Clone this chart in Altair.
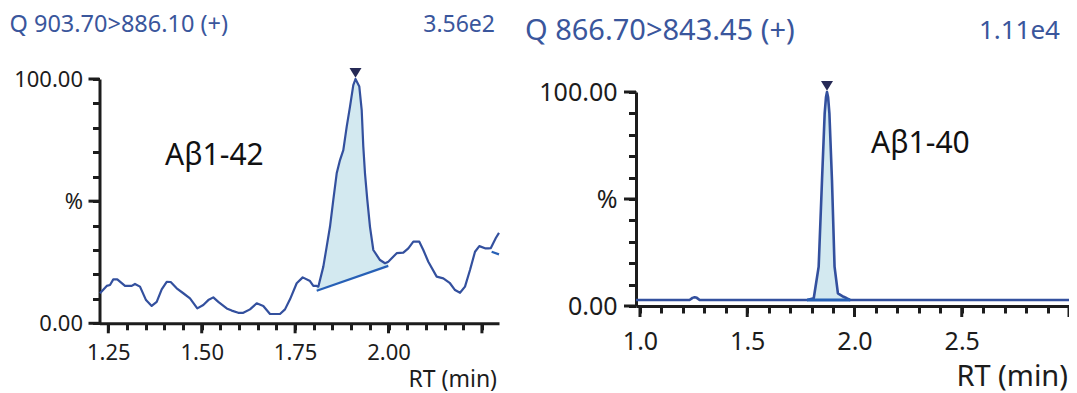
import altair as alt
import pandas as pd
import numpy as np

# ---------------- data ----------------
# Left panel: Q 903.70>886.10 (+), Abeta1-42
left_rt = [1.2277, 1.2457, 1.2545, 1.2633, 1.2740, 1.2947, 1.3126, 1.3214, 1.3348, 1.3509,
           1.3661, 1.3795, 1.3929, 1.4063, 1.4170, 1.4330, 1.4507, 1.4686, 1.4882, 1.5042,
           1.5176, 1.5310, 1.5444, 1.5669, 1.5803, 1.5979, 1.6113, 1.6292, 1.6472, 1.6648,
           1.6828, 1.7095, 1.7229, 1.7363, 1.7542, 1.7703, 1.7898, 1.7987, 1.8078, 1.8121,
           1.8255, 1.8345, 1.8433, 1.8522, 1.8613, 1.8701, 1.8790, 1.8881, 1.8969, 1.9057,
           1.9116, 1.9218, 1.9282, 1.9325, 1.9370, 1.9432, 1.9504, 1.9593, 1.9772, 1.9906,
           1.9994, 2.0040, 2.0219, 2.0396, 2.0530, 2.0664, 2.0824, 2.0931, 2.1065, 2.1289,
           2.1466, 2.1645, 2.1780, 2.1913, 2.2047, 2.2181, 2.2315, 2.2430, 2.2583, 2.2671,
           2.2739, 2.2792, 2.2872, 2.2957]
left_pct = [12.3, 15.3, 15.7, 18.0, 18.0, 15.3, 15.3, 16.1, 15.0, 9.5,
            7.1, 8.8, 13.9, 17.0, 16.9, 14.3, 12.3, 10.2, 6.1, 7.5,
            9.5, 10.6, 8.8, 6.1, 5.2, 4.3, 4.3, 5.7, 8.2, 7.1,
            3.8, 3.8, 5.7, 9.8, 16.4, 18.8, 17.3, 15.3, 15.3, 15.0,
            23.2, 31.4, 39.5, 50.5, 61.4, 66.8, 70.9, 80.5, 88.7, 97.5,
            100.0, 96.9, 87.3, 72.3, 61.4, 50.5, 39.5, 30.0, 25.9, 24.6,
            25.2, 25.9, 28.7, 28.9, 30.7, 33.4, 33.4, 30.0, 25.2, 19.1,
            18.4, 16.4, 13.6, 12.5, 15.0, 21.8, 29.3, 31.6, 30.7, 30.7,
            30.8, 32.5, 34.9, 37.0]
left_peak_rt = [1.9116]
left_peak_pct = [100.0]
left_base_rt = [1.8078, 1.9994]
left_base_pct = [13.3, 23.5]
left_base2_rt = [2.2760, 2.2957]
left_base2_pct = [29.3, 28.2]

# Right panel: Q 866.70>843.45 (+), Abeta1-40
right_rt = [0.9814, 1.2310, 1.2450, 1.2546, 1.2650, 1.2780, 1.7790, 1.8100, 1.8330, 1.8486,
            1.8610, 1.8670, 1.8718, 1.8770, 1.8830, 1.8950, 1.9070, 1.9227, 1.9490, 1.9644,
            1.9800, 3.0000]
right_pct = [2.8, 2.8, 3.8, 4.1, 3.8, 2.8, 2.8, 3.6, 18.4, 58.9,
             90.0, 97.5, 100.0, 97.5, 90.0, 58.9, 18.4, 5.9, 4.3, 3.6,
             2.8, 2.8]
right_peak_rt = [1.8718]
right_peak_pct = [100.0]
right_base_rt = [1.7790, 1.9800]
right_base_pct = [2.8, 2.8]

# tick values / labels
left_x_major = [1.25, 1.50, 1.75, 2.00, 2.25]
left_x_minor = [1.30, 1.35, 1.40, 1.45, 1.55, 1.60, 1.65, 1.70, 1.80, 1.85, 1.90, 1.95,
                2.05, 2.10, 2.15, 2.20]
right_x_major = [1.0, 1.5, 2.0, 2.5, 3.0]
right_x_minor = [1.1, 1.2, 1.3, 1.4, 1.6, 1.7, 1.8, 1.9, 2.1, 2.2, 2.3, 2.4, 2.6, 2.7, 2.8, 2.9]
y_major = [0, 50, 100]
y_minor = [10, 20, 30, 40, 60, 70, 80, 90]

left_title = "Q 903.70>886.10 (+)"
left_intensity = "3.56e2"
left_name = "Aβ1-42"
right_title = "Q 866.70>843.45 (+)"
right_intensity = "1.11e4"
right_name = "Aβ1-40"
x_title = "RT (min)"

# ---------------- styles ----------------
FONT = "Noto Sans"
TRACE = "#33509e"
FILL = "#d3e9f0"
BASE = "#2760b6"
MARK = "#262a56"
BLUE_TXT = "#3a569c"
AX = "#1c1c1c"
W, H = 1061, 385
DW = 3.0  # axis line / tick width

TRI = "M-1,-1.85 L1,-1.85 L0,-0.2 Z"
Y_LABELS = ("datum.value == 50 ? '%' : "
            "(datum.value == 0 || datum.value == 100 ? format(datum.value, '.2f') : '')")


def build_df(rt, pct):
    return pd.DataFrame({"rt": rt, "pct": pct})


def peak_fill(rt, pct, base_rt, base_pct):
    df = build_df(rt, pct)
    df = df[(df.rt >= base_rt[0] - 1e-9) & (df.rt <= base_rt[1] + 1e-9)].copy()
    df["base"] = np.interp(df.rt, base_rt, base_pct)
    return df


def ax(orient, offset, values, size, lfs, pad, expr):
    return alt.Axis(
        orient=orient, offset=offset, values=values, tickCount=500, title=None, grid=False,
        domainColor=AX, domainWidth=DW, tickColor=AX, tickWidth=DW, tickSize=size,
        labelFont=FONT, labelFontSize=lfs, labelColor=AX, labelFlush=False,
        labelOverlap=False, labelPadding=pad, labelExpr=expr,
    )


def panel(rt, pct, peak_rt, peak_pct, bases, xdom, xrng, ydom, yrng,
          xmaj, xmin, xexpr, lfs, xtick, ytick, xpad, ypad, line_w, base_w):
    xs = alt.Scale(domain=xdom, range=xrng, nice=False, zero=False)
    ys = alt.Scale(domain=ydom, range=yrng, nice=False, zero=False)
    x_axis_px = yrng[0]
    y_axis_px = xrng[0]
    df = build_df(rt, pct)
    base_rt, base_pct = bases[0]
    fdf = peak_fill(rt, pct, base_rt, base_pct)

    # the axis draws every tick at the minor length; majors are lengthened by rules
    xvals = sorted(xmaj + xmin)
    yvals = sorted(y_major + y_minor)
    area = alt.Chart(fdf).mark_area(color=FILL, opacity=1).encode(
        x=alt.X("rt:Q", scale=xs,
                axis=ax("bottom", x_axis_px - H, xvals, xtick[1], lfs,
                        xpad + xtick[0] - xtick[1], xexpr)),
        y=alt.Y("pct:Q", scale=ys,
                axis=ax("left", -y_axis_px, yvals, ytick[1], lfs,
                        ypad + ytick[0] - ytick[1], Y_LABELS)),
        y2="base:Q",
    )
    xmajor = alt.Chart(pd.DataFrame({"rt": xmaj})).mark_rule(
        color=AX, strokeWidth=DW
    ).encode(x="rt:Q", y=alt.value(x_axis_px), y2=alt.value(x_axis_px + xtick[0]))
    ymajor = alt.Chart(pd.DataFrame({"pct": y_major})).mark_rule(
        color=AX, strokeWidth=DW
    ).encode(y="pct:Q", x=alt.value(y_axis_px - ytick[0]), x2=alt.value(y_axis_px))
    line = alt.Chart(df).mark_line(color=TRACE, strokeWidth=line_w, strokeJoin="round").encode(
        x="rt:Q", y="pct:Q"
    )
    layers = [area, xmajor, ymajor, line]
    for brt, bpct in bases:
        bl = alt.Chart(build_df(brt, bpct)).mark_line(color=BASE, strokeWidth=base_w).encode(
            x="rt:Q", y="pct:Q"
        )
        layers.append(bl)
    mk = alt.Chart(build_df(peak_rt, peak_pct)).mark_point(
        shape=TRI, filled=True, color=MARK, opacity=1, size=144
    ).encode(x="rt:Q", y="pct:Q")
    layers.append(mk)
    return alt.layer(*layers)


left = panel(
    left_rt, left_pct, left_peak_rt, left_peak_pct,
    [(left_base_rt, left_base_pct), (left_base2_rt, left_base2_pct)],
    [1.2264, 2.2957], [91.5, 491], [0, 100], [315.3, 71],
    left_x_major, left_x_minor,
    "abs(datum.value*4 - round(datum.value*4)) < 0.001 && datum.value < 2.2 ? format(datum.value, '.2f') : ''",
    22, (10, 6.5), (11, 7), 9, 6, 2.2, 2.2,
)

right = panel(
    right_rt, right_pct, right_peak_rt, right_peak_pct,
    [(right_base_rt, right_base_pct)],
    [0.9814, 3.0], [628, 1061], [0, 100], [298, 84],
    right_x_major, right_x_minor,
    "abs(datum.value*2 - round(datum.value*2)) < 0.001 && datum.value < 2.9 ? format(datum.value, '.1f') : ''",
    25, (11, 7), (12, 7.5), 12, 7, 2.6, 3.2,
)

one = pd.DataFrame({"k": [0]})


def label(txt, x, y, size, color, align="left", baseline="middle"):
    return alt.Chart(one).mark_text(
        text=txt, font=FONT, fontSize=size, color=color, align=align, baseline=baseline
    ).encode(x=alt.value(x), y=alt.value(y))


texts = [
    label(left_title, 1.5, 16.5, 23.5, BLUE_TXT),
    label(left_intensity, 487, 16.5, 23, BLUE_TXT, align="right"),
    label(right_title, 517, 22.5, 29, BLUE_TXT),
    label(right_intensity, 1052, 22.5, 26, BLUE_TXT, align="right"),
    label(left_name, 157, 157, 30, "#111111", baseline="alphabetic"),
    label(right_name, 863, 145, 30, "#111111", baseline="alphabetic"),
    label(x_title, 489, 372, 23, AX, align="right"),
    label(x_title, 1060, 369, 29, AX, align="right"),
]

chart = alt.layer(left, right, *texts).resolve_scale(
    x="independent", y="independent"
).properties(
    width=W, height=H, autosize=alt.AutoSizeParams(type="none"), padding=0,
    background="white",
).configure_view(stroke=None)

chart.save("out.html", embed_options={"renderer": "svg", "actions": False})
